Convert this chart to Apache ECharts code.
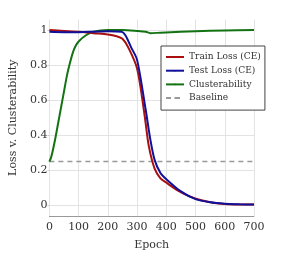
<!DOCTYPE html>
<html><head><meta charset="utf-8">
<script src="https://cdn.jsdelivr.net/npm/echarts@6/dist/echarts.min.js"></script>
<style>html,body{margin:0;padding:0;background:#fff}#c{width:303px;height:263px}</style>
</head><body><div id="c"></div>
<script>
const trainX = [0,50,100,150,200,230,250,270,300,326,340,360,380,400,440,480,520,560,600,650,700];
const trainY = [1.0,0.995,0.99,0.982,0.975,0.965,0.95,0.9,0.78,0.51,0.34,0.21,0.155,0.13,0.085,0.052,0.03,0.016,0.009,0.006,0.005];
const testX = [0,50,100,150,200,247,260,280,300,330,345,360,380,400,450,500,550,600,650,700];
const testY = [0.99,0.988,0.988,0.99,0.993,0.99,0.97,0.9,0.83,0.54,0.38,0.26,0.185,0.15,0.08,0.036,0.018,0.01,0.007,0.005];
const clusX = [0,5,10,20,30,40,50,60,70,80,90,100,125,150,200,250,300,330,345,380,450,500,600,700];
const clusY = [0.25,0.27,0.3,0.38,0.47,0.56,0.65,0.74,0.81,0.87,0.91,0.935,0.97,0.99,1.0,1.0,0.995,0.99,0.982,0.985,0.99,0.993,0.998,1.0];
const baseX = [0,700];
const baseY = [0.25,0.25];
const xTicks = [0,100,200,300,400,500,600,700];
const yTicks = [0,0.2,0.4,0.6,0.8,1];
const zip = (a,b)=>a.map((v,i)=>[v,b[i]]);
const font = 'DejaVu Serif';
const chart = echarts.init(document.getElementById('c'));
chart.setOption({
  animation:false,
  grid:{left:47,right:49,top:19.5,bottom:47},
  xAxis:{type:'value',min:0,max:700,interval:100,name:'Epoch',nameLocation:'middle',nameGap:24,
    nameTextStyle:{fontFamily:font,fontSize:11,color:'#333'},
    axisLine:{show:true,onZero:false,lineStyle:{color:'#999',width:1}},axisTick:{show:false},
    axisLabel:{fontFamily:font,fontSize:11,color:'#333',margin:6},
    splitLine:{show:true,lineStyle:{color:'#e3e3e3',width:1}}},
  yAxis:{type:'value',min:-0.06,max:1.06,name:'Loss v. Clusterability',nameLocation:'middle',nameGap:29,
    nameTextStyle:{fontFamily:font,fontSize:11,color:'#333'},
    axisLine:{show:false},
    axisTick:{show:true,length:2,customValues:yTicks,lineStyle:{color:'#ccc'}},
    axisLabel:{fontFamily:font,fontSize:11,color:'#333',margin:2,
      customValues:yTicks, formatter:v=>String(+v.toFixed(2))},
    splitLine:{show:true,lineStyle:{color:'#e3e3e3',width:1}}},
  legend:{orient:'vertical',left:161,top:46,itemWidth:18,itemHeight:2,itemGap:1.7,
    backgroundColor:'#fff',borderColor:'#444',borderWidth:1,borderRadius:0,padding:[5,4,6,4],
    textStyle:{fontFamily:font,fontSize:9.1,color:'#333',lineHeight:12},
    data:['Train Loss (CE)','Test Loss (CE)','Clusterability','Baseline']},
  series:[
    {name:'Baseline',type:'line',data:zip(baseX,baseY),showSymbol:false,symbol:'none',
      lineStyle:{color:'#999',width:1.5,type:[5,4]},itemStyle:{color:'#999'}},
    {name:'Clusterability',type:'line',data:zip(clusX,clusY),smooth:0.3,showSymbol:false,symbol:'none',
      lineStyle:{color:'#137313',width:2},itemStyle:{color:'#137313'}},
    {name:'Train Loss (CE)',type:'line',data:zip(trainX,trainY),smooth:0.3,showSymbol:false,symbol:'none',
      lineStyle:{color:'#aa0f0f',width:2},itemStyle:{color:'#aa0f0f'}},
    {name:'Test Loss (CE)',type:'line',data:zip(testX,testY),smooth:0.3,showSymbol:false,symbol:'none',
      lineStyle:{color:'#10109a',width:2},itemStyle:{color:'#10109a'}}
  ]
});
</script></body></html>
